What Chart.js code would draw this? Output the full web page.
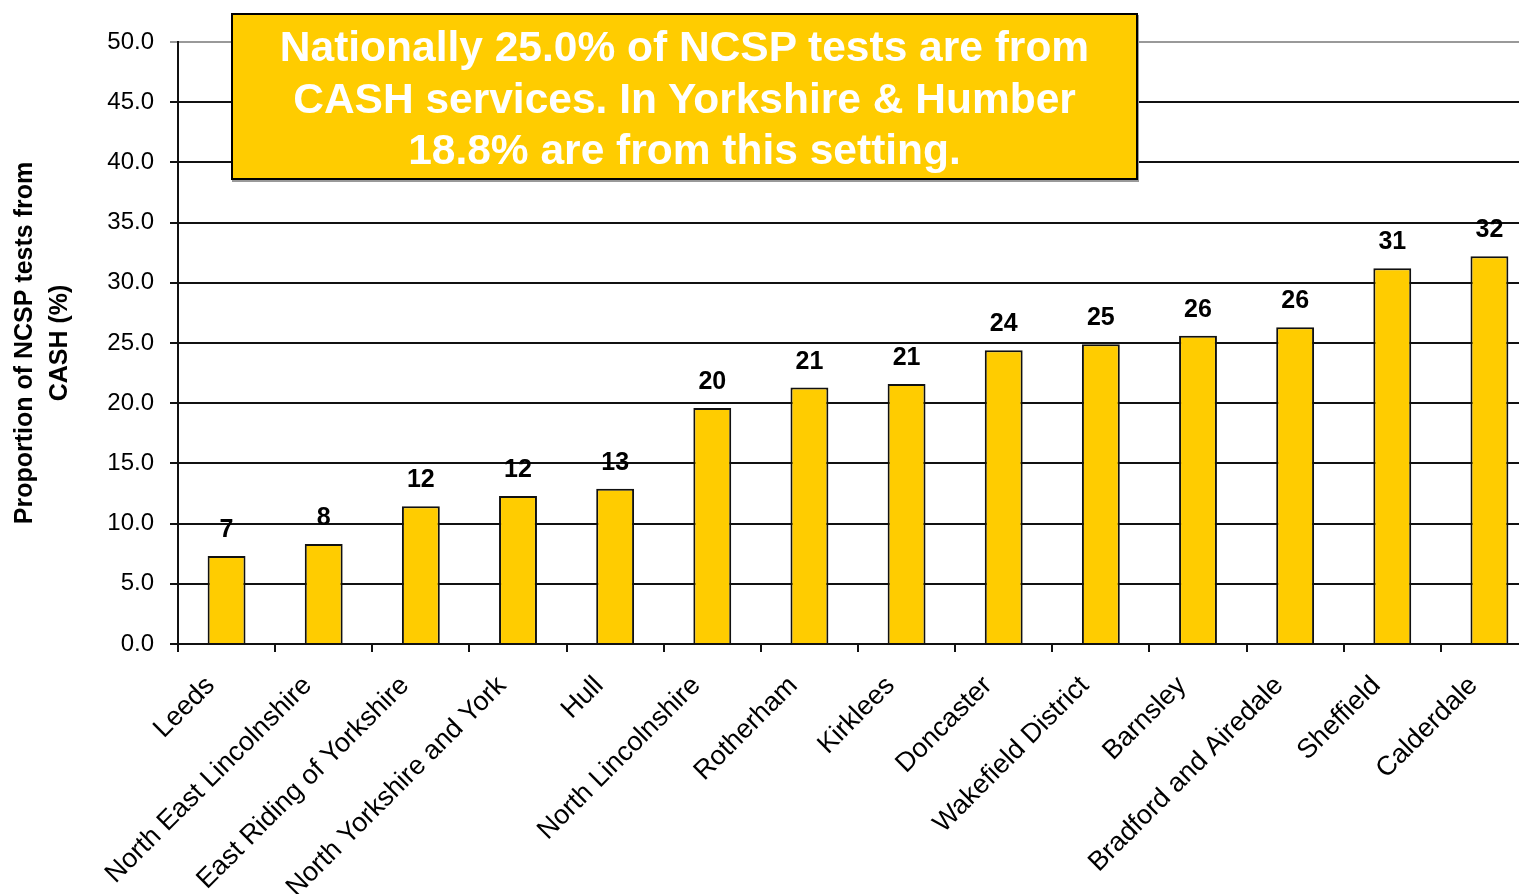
<!DOCTYPE html>
<html lang="en">
<head>
    <meta charset="UTF-8">
    <title>Proportion of NCSP tests from CASH</title>
    <style>
        html, body {
            margin: 0;
            padding: 0;
            background: #fff;
            overflow: hidden;
        }
        .wrap {
            position: relative;
            width: 1540px;
            height: 894px;
        }
        .note {
            position: absolute;
            left: 231px;
            top: 13px;
            width: 907px;
            height: 167px;
            box-sizing: border-box;
            border: 2px solid #000;
            background: #FFCC00;
            box-shadow: 1px 2px 0 #999;
            color: #fff;
            font-family: "Liberation Sans", Arial, sans-serif;
            font-weight: bold;
            font-size: 42.5px;
            line-height: 51.5px;
            text-align: center;
            padding-top: 6px;
        }
    </style>
</head>
<body>
    <div class="wrap">
        <canvas id="chart" width="1540" height="894"></canvas>
        <div class="note">Nationally 25.0% of NCSP tests are from<br>CASH services. In Yorkshire &amp; Humber<br>18.8% are from this setting.</div>
    </div>

    <script src="https://cdn.jsdelivr.net/npm/chart.js"></script>
    <script>
        // areas, sorted by share
        const areas = ['Leeds', 'North East Lincolnshire', 'East Riding of Yorkshire', 'North Yorkshire and York',
            'Hull', 'North Lincolnshire', 'Rotherham', 'Kirklees', 'Doncaster', 'Wakefield District',
            'Barnsley', 'Bradford and Airedale', 'Sheffield', 'Calderdale'];
        // bar heights
        const cashShare = [7.3, 8.3, 11.45, 12.3, 12.9, 19.6, 21.3, 21.6, 24.4, 24.9, 25.6, 26.3, 31.2, 32.2];
        // the rounded labels printed above the bars
        const shareLabels = [7, 8, 12, 12, 13, 20, 21, 21, 24, 25, 26, 26, 31, 32];
        const yTicks = [0, 5, 10, 15, 20, 25, 30, 35, 40, 45, 50];

        const font = '"Liberation Sans", Arial, sans-serif';

        const barLabels = {
            id: 'barLabels',
            afterDatasetsDraw(chart) {
                const ctx = chart.ctx;
                const meta = chart.getDatasetMeta(0);
                ctx.save();
                ctx.font = 'bold 25px ' + font;
                ctx.fillStyle = '#000';
                ctx.textAlign = 'center';
                ctx.textBaseline = 'alphabetic';
                meta.data.forEach((bar, i) => {
                    ctx.fillText(shareLabels[i], bar.x, bar.y - 19);
                });
                ctx.restore();
            }
        };

        new Chart(document.getElementById('chart'), {
            type: 'bar',
            data: {
                labels: areas,
                datasets: [{
                    data: cashShare,
                    backgroundColor: '#FFCC00',
                    borderColor: '#111',
                    borderWidth: 2,
                    categoryPercentage: 1,
                    barPercentage: 0.39
                }]
            },
            options: {
                responsive: false,
                animation: false,
                layout: { padding: { top: 42, right: 2, left: 0, bottom: 0 } },
                plugins: {
                    legend: { display: false },
                    tooltip: { enabled: false }
                },
                scales: {
                    x: {
                        afterFit(scale) { scale.height = 250; },
                        border: { color: '#111', width: 2 },
                        grid: {
                            offset: true,
                            drawOnChartArea: false,
                            drawTicks: true,
                            tickLength: 8,
                            color: '#111',
                            lineWidth: 2
                        },
                        ticks: {
                            autoSkip: false,
                            minRotation: 45,
                            maxRotation: 45,
                            labelOffset: -16,
                            padding: 18,
                            color: '#000',
                            font: { family: font, size: 27 }
                        }
                    },
                    y: {
                        min: 0,
                        max: 50,
                        afterFit(scale) { scale.width = 178; },
                        afterBuildTicks(scale) {
                            scale.ticks = yTicks.map(v => ({ value: v }));
                        },
                        border: { color: '#111', width: 2 },
                        grid: {
                            color: ctx => ctx.tick && ctx.tick.value === 50 ? '#999' : '#111',
                            lineWidth: 2,
                            tickLength: 8
                        },
                        ticks: {
                            padding: 16,
                            color: '#000',
                            font: { family: font, size: 24 },
                            callback: v => v.toFixed(1)
                        },
                        title: {
                            display: true,
                            text: ['Proportion of NCSP tests from', 'CASH (%)'],
                            color: '#000',
                            font: { family: font, size: 25, weight: 'bold', lineHeight: 1.4 },
                            padding: { top: 8, bottom: 0 }
                        }
                    }
                }
            },
            plugins: [barLabels]
        });
    </script>
</body>
</html>
